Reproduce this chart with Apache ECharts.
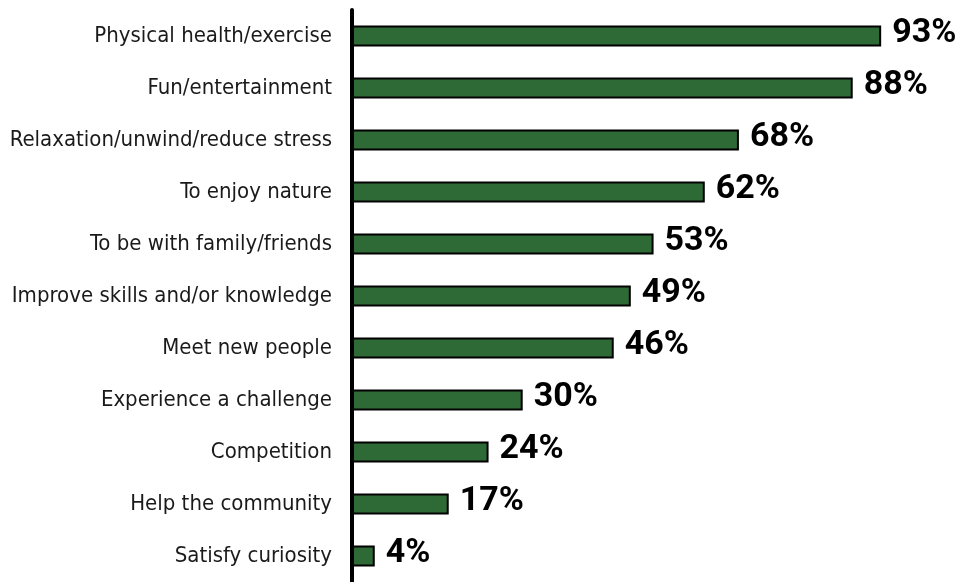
<!DOCTYPE html>
<html>
<head>
<meta charset="utf-8">
<script src="https://cdn.jsdelivr.net/npm/echarts@6/dist/echarts.min.js"></script>
<style>
  html, body { margin: 0; padding: 0; background: #ffffff; }
  #chart { width: 957px; height: 582px; }
</style>
</head>
<body>
<div id="chart"></div>
<script>
// Reasons for participating, share of respondents (%)
const categories = [
  'Physical health/exercise',
  'Fun/entertainment',
  'Relaxation/unwind/reduce stress',
  'To enjoy nature',
  'To be with family/friends',
  'Improve skills and/or knowledge',
  'Meet new people',
  'Experience a challenge',
  'Competition',
  'Help the community',
  'Satisfy curiosity'
];
const values = [93, 88, 68, 62, 53, 49, 46, 30, 24, 17, 4];

const chart = echarts.init(document.getElementById('chart'), null, { renderer: 'canvas' });

chart.setOption({
  animation: false,
  backgroundColor: '#ffffff',
  grid: {
    left: 352, top: 10, width: 569, height: 572,
    containLabel: false,
    outerBoundsMode: 'none'
  },
  xAxis: {
    type: 'value',
    min: 0,
    max: 100,
    show: false
  },
  yAxis: {
    type: 'category',
    data: categories,
    inverse: true,
    axisLine: { show: true, lineStyle: { color: '#000000', width: 4 } },
    axisTick: { show: false },
    splitLine: { show: false },
    axisLabel: {
      margin: 20,
      color: '#1a1a1a',
      fontFamily: '"DejaVu Sans Condensed", "DejaVu Sans", sans-serif',
      fontSize: 22,
      padding: [0, 0, 10, 0]
    }
  },
  series: [{
    type: 'bar',
    data: values,
    barWidth: 21,
    itemStyle: {
      color: '#2d6a36',
      borderColor: '#000000',
      borderWidth: 2
    },
    label: {
      show: true,
      position: 'right',
      distance: 11,
      offset: [0, -3],
      formatter: '{c}%',
      color: '#000000',
      fontFamily: 'Roboto',
      fontWeight: 'bold',
      fontSize: 34
    }
  }]
});
</script>
</body>
</html>
